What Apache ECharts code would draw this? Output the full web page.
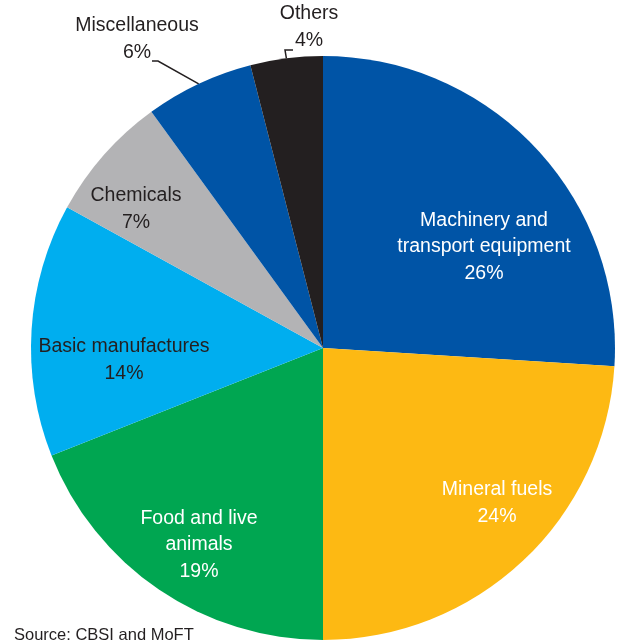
<!DOCTYPE html>
<html>
<head>
<meta charset="utf-8">
<title>Exports by commodity</title>
<script src="https://cdn.jsdelivr.net/npm/echarts@6/dist/echarts.min.js"></script>
<style>
  html, body { margin: 0; padding: 0; background: #ffffff; }
  #chart { width: 619px; height: 641px; }
</style>
</head>
<body>
<div id="chart"></div>
<script>
// Commodity groups, clockwise from twelve o'clock
const categories = [
  'Machinery and\ntransport equipment',
  'Mineral fuels',
  'Food and live\nanimals',
  'Basic manufactures',
  'Chemicals',
  'Miscellaneous',
  'Others'
];
// Share of total, per cent
const shares = [26, 24, 19, 14, 7, 6, 4];

const sliceColors = ['#0054A6', '#FDB913', '#00A651', '#00AEEF', '#B3B3B5', '#0054A6', '#231F20'];
const labelColors = ['#ffffff', '#ffffff', '#ffffff', '#231F20', '#231F20', '#231F20', '#231F20'];
const outsideLabel = [false, false, false, false, false, true, true];

// Centre of each label block (px)
const labelSpots = [[484, 247], [497, 503], [199, 545], [124, 360], [136, 209], [137, 39], [309, 27]];
// Leader-line elbow and end, relative to the label centre
const leaderOffsets = {
  5: [[21, 22], [15, 22]],
  6: [[-24, 23], [-16, 23]]
};

const chart = echarts.init(document.getElementById('chart'), null, { renderer: 'canvas' });

const data = categories.map((name, i) => ({
  name: name,
  value: shares[i],
  itemStyle: { color: sliceColors[i] },
  label: {
    position: outsideLabel[i] ? 'outside' : 'inside',
    color: labelColors[i]
  },
  labelLine: { show: outsideLabel[i] }
}));

chart.setOption({
  animation: false,
  backgroundColor: '#ffffff',
  textStyle: { fontFamily: '"Liberation Sans", Arial, sans-serif' },
  graphic: [{
    type: 'text',
    left: 14,
    top: 627,
    style: {
      text: 'Source: CBSI and MoFT',
      font: '16.5px "Liberation Sans", Arial, sans-serif',
      fill: '#231F20'
    }
  }],
  series: [{
    type: 'pie',
    center: [323, 348],
    radius: [0, 292],
    startAngle: 90,
    clockwise: true,
    avoidLabelOverlap: false,
    itemStyle: { borderWidth: 0 },
    emphasis: { disabled: true },
    label: {
      show: true,
      fontFamily: '"Liberation Sans", Arial, sans-serif',
      fontSize: 19.5,
      lineHeight: 26.5,
      align: 'center',
      formatter: p => p.name + '\n' + p.value + '%'
    },
    labelLine: {
      show: false,
      length: 10,
      length2: 8,
      lineStyle: { color: '#231F20', width: 1.5 }
    },
    labelLayout: function (p) {
      const spot = labelSpots[p.dataIndex];
      const out = { x: spot[0], y: spot[1], align: 'center', verticalAlign: 'middle' };
      const lead = leaderOffsets[p.dataIndex];
      if (lead && p.labelLinePoints) {
        out.labelLinePoints = [
          p.labelLinePoints[0],
          [spot[0] + lead[0][0], spot[1] + lead[0][1]],
          [spot[0] + lead[1][0], spot[1] + lead[1][1]]
        ];
      }
      return out;
    },
    data: data
  }]
});
</script>
</body>
</html>
